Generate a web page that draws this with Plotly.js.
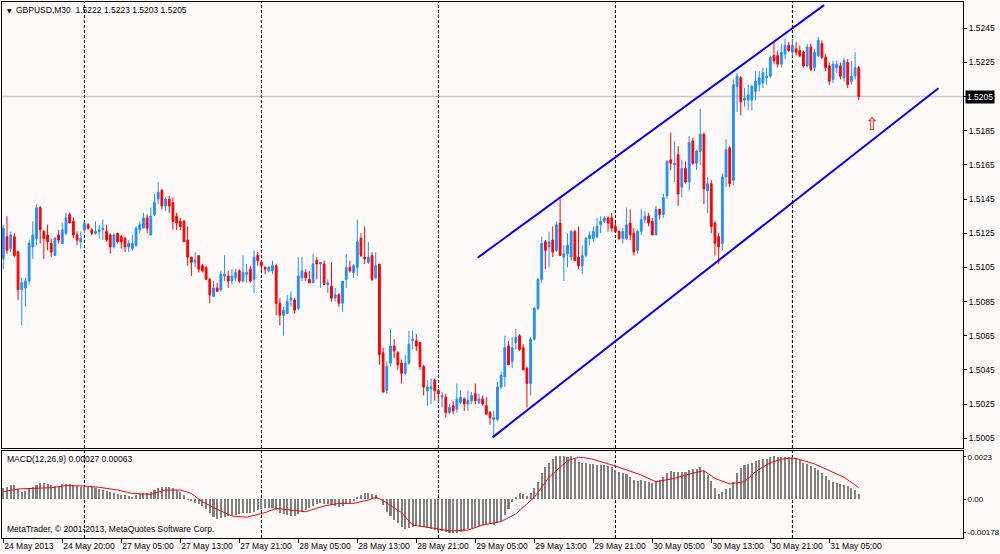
<!DOCTYPE html>
<html><head><meta charset="utf-8">
<script src="https://cdn.plot.ly/plotly-3.0.1.min.js"></script>
<style>html,body{margin:0;padding:0;background:#FFFAFA;} #chart{width:1000px;height:554px;}</style>
</head><body><div id="chart"></div>
<script>
const symbol = "GBPUSD,M30";
const open = [
1.5110,1.5123,1.5116,1.5123,1.5114,1.5092,1.5093,1.5097,1.5117,1.5122,
1.5140,1.5126,1.5124,1.5119,1.5112,1.5124,1.5119,1.5125,1.5136,1.5132,
1.5124,1.5120,1.5127,1.5130,1.5127,1.5125,1.5126,1.5127,1.5126,1.5124,
1.5117,1.5125,1.5123,1.5122,1.5117,1.5116,1.5118,1.5127,1.5128,1.5134,
1.5124,1.5136,1.5145,1.5150,1.5141,1.5145,1.5143,1.5135,1.5132,1.5132,
1.5121,1.5111,1.5108,1.5112,1.5106,1.5105,1.5098,1.5088,1.5093,1.5092,
1.5100,1.5100,1.5097,1.5099,1.5103,1.5097,1.5101,1.5104,1.5098,1.5112,
1.5108,1.5105,1.5103,1.5103,1.5106,1.5084,1.5077,1.5078,1.5086,1.5086,
1.5081,1.5099,1.5102,1.5098,1.5096,1.5109,1.5107,1.5107,1.5095,1.5094,
1.5087,1.5089,1.5084,1.5098,1.5105,1.5102,1.5105,1.5122,1.5111,1.5108,
1.5112,1.5099,1.5107,1.5055,1.5033,1.5049,1.5059,1.5055,1.5049,1.5043,
1.5049,1.5062,1.5062,1.5061,1.5047,1.5033,1.5034,1.5039,1.5033,1.5029,
1.5029,1.5020,1.5024,1.5022,1.5026,1.5028,1.5025,1.5027,1.5031,1.5026,
1.5028,1.5024,1.5020,1.5016,1.5016,1.5035,1.5041,1.5059,1.5050,1.5061,
1.5065,1.5058,1.5046,1.5037,1.5063,1.5081,1.5098,1.5120,1.5117,1.5121,
1.5115,1.5131,1.5111,1.5113,1.5111,1.5126,1.5111,1.5106,1.5112,1.5122,
1.5122,1.5123,1.5130,1.5132,1.5134,1.5134,1.5129,1.5126,1.5122,1.5122,
1.5131,1.5125,1.5115,1.5126,1.5133,1.5135,1.5132,1.5124,1.5139,1.5136,
1.5147,1.5168,1.5165,1.5171,1.5152,1.5163,1.5155,1.5179,1.5166,1.5173,
1.5183,1.5150,1.5154,1.5131,1.5123,1.5119,1.5158,1.5175,1.5156,1.5211,
1.5216,1.5203,1.5203,1.5203,1.5208,1.5212,1.5213,1.5216,1.5217,1.5229,
1.5229,1.5224,1.5230,1.5235,1.5231,1.5233,1.5232,1.5231,1.5223,1.5234,
1.5222,1.5229,1.5236,1.5228,1.5223,1.5215,1.5222,1.5223,1.5216,1.5225,
1.5214,1.5217,1.5222];
const high = [
1.5130,1.5135,1.5126,1.5125,1.5115,1.5099,1.5099,1.5121,1.5132,1.5142,
1.5141,1.5127,1.5130,1.5122,1.5123,1.5127,1.5131,1.5137,1.5137,1.5134,
1.5126,1.5126,1.5132,1.5131,1.5128,1.5132,1.5130,1.5133,1.5130,1.5125,
1.5125,1.5125,1.5124,1.5123,1.5121,1.5124,1.5129,1.5132,1.5137,1.5136,
1.5140,1.5148,1.5155,1.5151,1.5146,1.5147,1.5146,1.5137,1.5134,1.5133,
1.5129,1.5111,1.5114,1.5112,1.5107,1.5106,1.5099,1.5097,1.5096,1.5103,
1.5112,1.5103,1.5104,1.5104,1.5104,1.5112,1.5107,1.5106,1.5115,1.5114,
1.5109,1.5106,1.5106,1.5109,1.5107,1.5087,1.5082,1.5089,1.5091,1.5087,
1.5111,1.5111,1.5104,1.5103,1.5113,1.5111,1.5108,1.5109,1.5098,1.5108,
1.5093,1.5090,1.5097,1.5113,1.5109,1.5107,1.5133,1.5125,1.5129,1.5120,
1.5114,1.5114,1.5107,1.5058,1.5050,1.5069,1.5063,1.5056,1.5051,1.5054,
1.5068,1.5068,1.5066,1.5061,1.5048,1.5039,1.5040,1.5040,1.5034,1.5032,
1.5031,1.5025,1.5027,1.5037,1.5033,1.5029,1.5033,1.5032,1.5037,1.5031,
1.5030,1.5029,1.5021,1.5021,1.5038,1.5044,1.5065,1.5062,1.5064,1.5069,
1.5066,1.5060,1.5047,1.5064,1.5082,1.5099,1.5123,1.5121,1.5126,1.5129,
1.5132,1.5145,1.5118,1.5125,1.5127,1.5127,1.5129,1.5118,1.5123,1.5126,
1.5129,1.5134,1.5135,1.5135,1.5135,1.5137,1.5131,1.5127,1.5128,1.5140,
1.5139,1.5128,1.5127,1.5139,1.5138,1.5137,1.5134,1.5141,1.5139,1.5148,
1.5168,1.5184,1.5179,1.5176,1.5168,1.5167,1.5182,1.5181,1.5174,1.5198,
1.5184,1.5158,1.5156,1.5132,1.5125,1.5160,1.5180,1.5176,1.5215,1.5219,
1.5217,1.5210,1.5212,1.5212,1.5220,1.5220,1.5222,1.5222,1.5229,1.5237,
1.5232,1.5236,1.5239,1.5237,1.5239,1.5237,1.5235,1.5232,1.5236,1.5236,
1.5233,1.5240,1.5238,1.5230,1.5225,1.5226,1.5226,1.5225,1.5228,1.5227,
1.5226,1.5231,1.5223];
const low = [
1.5104,1.5113,1.5114,1.5111,1.5086,1.5071,1.5082,1.5095,1.5110,1.5118,
1.5119,1.5110,1.5115,1.5111,1.5112,1.5119,1.5119,1.5124,1.5131,1.5122,
1.5118,1.5116,1.5125,1.5127,1.5124,1.5124,1.5122,1.5121,1.5120,1.5113,
1.5116,1.5119,1.5116,1.5114,1.5114,1.5115,1.5117,1.5125,1.5128,1.5125,
1.5124,1.5135,1.5142,1.5139,1.5138,1.5137,1.5127,1.5127,1.5127,1.5120,
1.5106,1.5100,1.5105,1.5102,1.5102,1.5098,1.5084,1.5088,1.5091,1.5091,
1.5097,1.5093,1.5095,1.5097,1.5096,1.5096,1.5096,1.5096,1.5090,1.5106,
1.5103,1.5101,1.5102,1.5101,1.5077,1.5071,1.5065,1.5078,1.5082,1.5078,
1.5080,1.5097,1.5097,1.5096,1.5096,1.5098,1.5093,1.5095,1.5090,1.5085,
1.5085,1.5082,1.5079,1.5093,1.5102,1.5099,1.5100,1.5111,1.5107,1.5107,
1.5097,1.5098,1.5048,1.5032,1.5031,1.5047,1.5052,1.5045,1.5037,1.5042,
1.5048,1.5057,1.5056,1.5045,1.5030,1.5024,1.5025,1.5027,1.5026,1.5023,
1.5017,1.5019,1.5019,1.5020,1.5025,1.5021,1.5021,1.5025,1.5025,1.5025,
1.5024,1.5019,1.5013,1.5005,1.5015,1.5034,1.5035,1.5048,1.5046,1.5057,
1.5056,1.5045,1.5023,1.5030,1.5062,1.5080,1.5096,1.5104,1.5105,1.5111,
1.5114,1.5112,1.5097,1.5105,1.5109,1.5109,1.5104,1.5101,1.5111,1.5118,
1.5120,1.5122,1.5125,1.5131,1.5126,1.5126,1.5126,1.5121,1.5119,1.5121,
1.5121,1.5112,1.5113,1.5124,1.5131,1.5129,1.5124,1.5124,1.5133,1.5134,
1.5145,1.5162,1.5155,1.5141,1.5146,1.5154,1.5150,1.5165,1.5162,1.5165,
1.5142,1.5137,1.5125,1.5112,1.5107,1.5115,1.5152,1.5152,1.5153,1.5196,
1.5194,1.5199,1.5197,1.5197,1.5203,1.5208,1.5210,1.5212,1.5216,1.5224,
1.5222,1.5222,1.5227,1.5231,1.5229,1.5229,1.5228,1.5222,1.5222,1.5220,
1.5220,1.5228,1.5227,1.5220,1.5212,1.5213,1.5219,1.5215,1.5214,1.5210,
1.5212,1.5215,1.5203];
const close = [
1.5128,1.5115,1.5124,1.5112,1.5092,1.5096,1.5097,1.5119,1.5124,1.5140,
1.5127,1.5122,1.5120,1.5114,1.5122,1.5121,1.5127,1.5134,1.5131,1.5124,
1.5121,1.5122,1.5131,1.5128,1.5125,1.5126,1.5127,1.5128,1.5121,1.5117,
1.5124,1.5120,1.5120,1.5117,1.5119,1.5119,1.5128,1.5130,1.5134,1.5128,
1.5135,1.5143,1.5149,1.5141,1.5145,1.5141,1.5132,1.5131,1.5129,1.5120,
1.5111,1.5108,1.5109,1.5104,1.5103,1.5098,1.5089,1.5093,1.5091,1.5101,
1.5101,1.5097,1.5100,1.5102,1.5097,1.5102,1.5102,1.5097,1.5111,1.5109,
1.5106,1.5104,1.5105,1.5106,1.5084,1.5077,1.5080,1.5085,1.5087,1.5080,
1.5100,1.5103,1.5099,1.5096,1.5107,1.5107,1.5108,1.5095,1.5096,1.5087,
1.5089,1.5084,1.5097,1.5105,1.5103,1.5106,1.5120,1.5112,1.5110,1.5111,
1.5098,1.5106,1.5054,1.5032,1.5047,1.5059,1.5056,1.5048,1.5043,1.5049,
1.5060,1.5063,1.5059,1.5047,1.5035,1.5035,1.5035,1.5033,1.5031,1.5030,
1.5020,1.5023,1.5021,1.5028,1.5029,1.5025,1.5027,1.5030,1.5027,1.5028,
1.5025,1.5019,1.5017,1.5017,1.5035,1.5042,1.5058,1.5048,1.5058,1.5064,
1.5057,1.5045,1.5037,1.5063,1.5081,1.5098,1.5119,1.5115,1.5120,1.5114,
1.5130,1.5112,1.5113,1.5118,1.5126,1.5109,1.5106,1.5112,1.5122,1.5124,
1.5126,1.5129,1.5132,1.5134,1.5131,1.5128,1.5126,1.5122,1.5126,1.5130,
1.5124,1.5114,1.5126,1.5133,1.5135,1.5131,1.5124,1.5139,1.5136,1.5146,
1.5167,1.5166,1.5166,1.5148,1.5163,1.5155,1.5178,1.5166,1.5173,1.5183,
1.5151,1.5154,1.5129,1.5119,1.5117,1.5158,1.5174,1.5154,1.5212,1.5217,
1.5202,1.5204,1.5206,1.5211,1.5214,1.5216,1.5219,1.5217,1.5228,1.5226,
1.5224,1.5231,1.5235,1.5232,1.5235,1.5231,1.5229,1.5223,1.5234,1.5221,
1.5231,1.5238,1.5228,1.5222,1.5214,1.5224,1.5224,1.5217,1.5226,1.5212,
1.5217,1.5222,1.5205];
const macdHist = [
0.00063,0.00068,0.00077,0.00077,0.00054,0.00041,0.00047,0.00054,0.00065,0.00077,
0.00090,0.00090,0.00083,0.00077,0.00072,0.00072,0.00081,0.00083,0.00083,0.00077,
0.00072,0.00068,0.00068,0.00068,0.00065,0.00059,0.00054,0.00050,0.00047,0.00038,
0.00032,0.00027,0.00023,0.00023,0.00018,0.00014,0.00023,0.00029,0.00032,0.00032,
0.00041,0.00050,0.00059,0.00065,0.00068,0.00068,0.00059,0.00050,0.00041,0.00023,
-0.00004,-0.00009,-0.00018,-0.00025,-0.00036,-0.00054,-0.00076,-0.00097,-0.00108,-0.00103,
-0.00097,-0.00090,-0.00085,-0.00085,-0.00079,-0.00076,-0.00072,-0.00072,-0.00067,-0.00058,
-0.00052,-0.00049,-0.00049,-0.00045,-0.00058,-0.00072,-0.00079,-0.00085,-0.00088,-0.00090,
-0.00079,-0.00067,-0.00058,-0.00049,-0.00036,-0.00027,-0.00022,-0.00025,-0.00027,-0.00031,
-0.00036,-0.00040,-0.00036,-0.00025,-0.00018,-0.00009,0.00014,0.00023,0.00032,0.00032,
0.00029,0.00023,0.00002,-0.00031,-0.00067,-0.00090,-0.00112,-0.00130,-0.00151,-0.00162,
-0.00157,-0.00151,-0.00144,-0.00144,-0.00151,-0.00157,-0.00162,-0.00166,-0.00169,-0.00171,
-0.00175,-0.00180,-0.00184,-0.00180,-0.00175,-0.00169,-0.00162,-0.00157,-0.00151,-0.00144,
-0.00139,-0.00133,-0.00133,-0.00139,-0.00130,-0.00115,-0.00085,-0.00054,-0.00013,0.00014,
0.00032,0.00027,0.00018,0.00036,0.00063,0.00095,0.00140,0.00173,0.00198,0.00216,
0.00234,0.00236,0.00234,0.00230,0.00236,0.00216,0.00203,0.00198,0.00194,0.00191,
0.00189,0.00185,0.00185,0.00184,0.00180,0.00173,0.00158,0.00146,0.00140,0.00135,
0.00122,0.00104,0.00101,0.00104,0.00101,0.00095,0.00090,0.00095,0.00104,0.00122,
0.00140,0.00155,0.00149,0.00146,0.00149,0.00146,0.00158,0.00162,0.00162,0.00173,
0.00155,0.00131,0.00101,0.00059,0.00029,0.00041,0.00054,0.00059,0.00095,0.00144,
0.00167,0.00185,0.00191,0.00198,0.00205,0.00212,0.00216,0.00216,0.00227,0.00234,
0.00230,0.00230,0.00230,0.00230,0.00230,0.00221,0.00212,0.00198,0.00191,0.00180,
0.00167,0.00158,0.00140,0.00126,0.00104,0.00095,0.00090,0.00083,0.00077,0.00072,
0.00059,0.00050,0.00027];
const signalIdx = [0,4,8,13,17,22,26,31,35,40,44,48,51,54,58,62,66,71,74,78,82,87,91,95,99,101,103,108,111,117,121,126,130,135,139,144,148,153,156,159,166,173,177,182,185,190,193,197,201,204,208,212,215,220,224,228,232];
const signalVal = [0.00041,0.00056,0.00059,0.00063,0.00074,0.00072,0.00065,0.00050,0.00032,0.00027,0.00050,0.00050,0.00032,-0.00013,-0.00054,-0.00090,-0.00097,-0.00072,-0.00049,-0.00058,-0.00067,-0.00036,-0.00022,-0.00022,-0.00004,0.00011,-0.00007,-0.00072,-0.00139,-0.00157,-0.00171,-0.00166,-0.00139,-0.00120,-0.00079,0.00011,0.00119,0.00209,0.00227,0.00221,0.00180,0.00131,0.00095,0.00113,0.00131,0.00155,0.00113,0.00083,0.00095,0.00149,0.00198,0.00221,0.00221,0.00191,0.00155,0.00119,0.00063];
const timeTickIdx = [0,16,32,48,64,80,96,112,128,144,160,176,192,208,224];
const timeTickText = ["24 May 2013","24 May 20:00","27 May 05:00","27 May 13:00","27 May 21:00","28 May 05:00","28 May 13:00","28 May 21:00","29 May 05:00","29 May 13:00","29 May 21:00","30 May 05:00","30 May 13:00","30 May 21:00","31 May 05:00"];
const priceTicks = [1.5005,1.5025,1.5045,1.5065,1.5085,1.5105,1.5125,1.5145,1.5165,1.5185,1.5205,1.5225,1.5245];
const macdTicks = [0.0023,0,-0.00178];
const macdTickText = ["0.0023","0.00","-0.00178"];
const separatorIdx = [22,70,118,166,214];
const channelUpperX = [128.65,222.6], channelUpperY = [1.51107,1.52586];
const channelLowerX = [132.7,253.6], channelLowerY = [1.50055,1.52099];
const arrowIdx = 235.6, arrowPrice = 1.5189;

const n = close.length;
if (open.length!==n||high.length!==n||low.length!==n||macdHist.length!==n) console.error('length mismatch', open.length, high.length, low.length, n, macdHist.length);
const barIdx = close.map((_, i) => i);
const last = n - 1;

// layout helpers (pixel -> paper)
const PL = 2, PR = 963, PT = 2, PB = 538;
const px = v => (v - PL) / (PR - PL);
const py = v => (PB - v) / (PB - PT);
const FONT = 'Liberation Sans, Arial, sans-serif';
const BG = '#FFFAFA';

const traces = [
  {type:'candlestick', x:barIdx, open:open, high:high, low:low, close:close,
   xaxis:'x', yaxis:'y', whiskerwidth:0, line:{width:1},
   increasing:{line:{color:'#1E90FF', width:1}, fillcolor:'#1E90FF'},
   decreasing:{line:{color:'#FF0000', width:1}, fillcolor:'#FF0000'},
   hoverinfo:'skip', showlegend:false},
  {type:'scatter', mode:'lines', x:channelUpperX, y:channelUpperY, xaxis:'x', yaxis:'y',
   line:{color:'#0000FF', width:2}, hoverinfo:'skip', showlegend:false},
  {type:'scatter', mode:'lines', x:channelLowerX, y:channelLowerY, xaxis:'x', yaxis:'y',
   line:{color:'#0000FF', width:2}, hoverinfo:'skip', showlegend:false},
  {type:'bar', x:barIdx, y:macdHist, xaxis:'x2', yaxis:'y2', width:0.55,
   marker:{color:'#808080', line:{width:0}}, hoverinfo:'skip', showlegend:false},
  {type:'scatter', mode:'lines', x:signalIdx, y:signalVal, xaxis:'x2', yaxis:'y2',
   line:{color:'#FF0000', width:1}, hoverinfo:'skip', showlegend:false}
];

const axisCommon = {showline:true, mirror:true, linecolor:'#000', linewidth:1, showgrid:false, zeroline:false,
  tickcolor:'#000', tickfont:{family:FONT, size:8.5, color:'#000'}, fixedrange:true};

const shapes = [
  {type:'line', xref:'paper', x0:0, x1:1, yref:'y', y0:close[last], y1:close[last],
   line:{color:'#C8C8C8', width:1.5}, layer:'below'}
].concat(separatorIdx.map(i => ({type:'line', xref:'x', x0:i, x1:i, yref:'paper', y0:0, y1:1,
   line:{color:'#000', width:1, dash:'3px,2px'}, layer:'below'})));

const f4 = v => v.toFixed(4);
const annFont = {family:FONT, size:8.5, color:'#000'};
const annotations = [
  {xref:'paper', yref:'paper', x:px(5), y:py(10), xanchor:'left', yanchor:'middle', showarrow:false,
   text:'\u25BC', font:{family:'DejaVu Sans', size:6, color:'#000'}},
  {xref:'paper', yref:'paper', x:px(14), y:py(10), xanchor:'left', yanchor:'middle', showarrow:false,
   text: symbol + '\u00a0 ' + [open[last],high[last],low[last],close[last]].map(f4).join(' '), font:annFont},
  {xref:'paper', yref:'paper', x:px(5), y:py(459), xanchor:'left', yanchor:'middle', showarrow:false,
   text:'MACD(12,26,9) ' + macdHist[last].toFixed(5) + ' ' + signalVal[signalVal.length-1].toFixed(5), font:annFont},
  {xref:'paper', yref:'paper', x:px(5), y:py(529), xanchor:'left', yanchor:'middle', showarrow:false,
   text:'MetaTrader, \u00a9 2001-2013, MetaQuotes Software Corp.', font:annFont},
  {xref:'paper', yref:'y', x:1, xshift:2, y:close[last], xanchor:'left', yanchor:'middle', showarrow:false,
   text:f4(close[last]), bgcolor:'#000', borderpad:1, font:{family:FONT, size:8.5, color:'#FFF'}},
  {xref:'x', yref:'y', x:arrowIdx, y:arrowPrice, xanchor:'center', yanchor:'middle', showarrow:false,
   text:'\u21E7', font:{family:'DejaVu Sans', size:17, color:'#FF0000'}}
];

const layout = {
  width:1000, height:554, margin:{l:PL, r:1000-PR, t:PT, b:554-PB},
  paper_bgcolor:BG, plot_bgcolor:BG, showlegend:false, bargap:0,
  font:{family:FONT, size:8.5, color:'#000'},
  xaxis:Object.assign({}, axisCommon, {domain:[0,1], range:[-0.353, 260.26], anchor:'y',
    showticklabels:false, ticks:'', rangeslider:{visible:false}}),
  xaxis2:Object.assign({}, axisCommon, {domain:[0,1], matches:'x', anchor:'y2',
    tickmode:'array', tickvals:timeTickIdx, ticktext:timeTickText, ticks:'outside', ticklen:4,
    tickangle:0, ticklabelposition:'outside right', ticklabelstandoff:0, rangeslider:{visible:false}}),
  yaxis:Object.assign({}, axisCommon, {domain:[py(448),1], range:[1.499928, 1.526040], anchor:'x', side:'right',
    tickmode:'array', tickvals:priceTicks, ticktext:priceTicks.map(f4), ticks:'outside', ticklen:3}),
  yaxis2:Object.assign({}, axisCommon, {domain:[0, py(450.5)], range:[-0.002089, 0.002635], anchor:'x2', side:'right',
    tickmode:'array', tickvals:macdTicks, ticktext:macdTickText, ticks:'outside', ticklen:2,
    tickfont:{family:FONT, size:8, color:'#000'}}),
  shapes:shapes, annotations:annotations
};

Plotly.newPlot('chart', traces, layout, {displayModeBar:false, staticPlot:true});
</script>
</body></html>
